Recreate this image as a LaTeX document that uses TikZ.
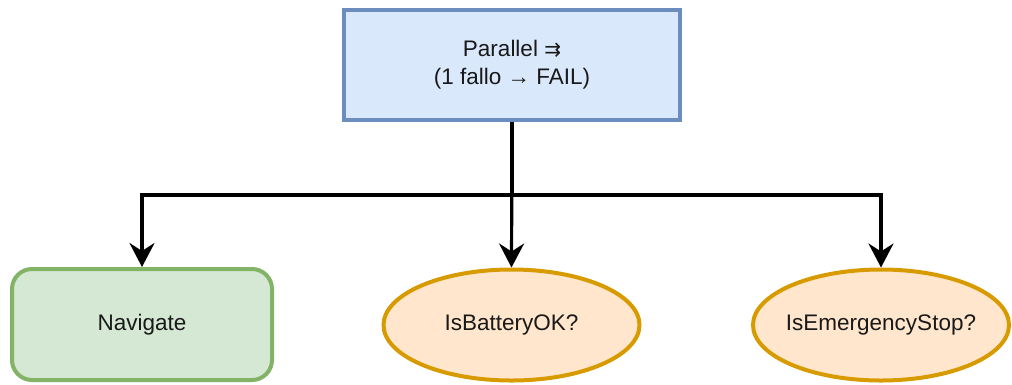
\documentclass[tikz,border=0pt]{standalone}
\usepackage{fontspec}
\setmainfont{Liberation Sans}
\newfontfamily\symfont{DejaVu Sans}
\usetikzlibrary{arrows.meta,shapes.geometric}
\definecolor{parfill}{HTML}{DAE8FC}
\definecolor{pardraw}{HTML}{6C8EBF}
\definecolor{actfill}{HTML}{D5E8D4}
\definecolor{actdraw}{HTML}{82B366}
\definecolor{condfill}{HTML}{FFE6CC}
\definecolor{conddraw}{HTML}{D79B00}
\tikzset{
  base/.style={line width=4pt, font=\fontsize{22.5}{28}\selectfont, text=black!90, align=center, inner sep=0pt},
  parbox/.style={base, rectangle, fill=parfill, draw=pardraw, minimum width=336pt, minimum height=110pt},
  actbox/.style={base, rectangle, rounded corners=20pt, fill=actfill, draw=actdraw, minimum width=260pt, minimum height=111pt},
  condbox/.style={base, ellipse, inner xsep=-40pt, fill=condfill, draw=conddraw, minimum width=256pt, minimum height=111pt},
  link/.style={line width=3.2pt, black, -{Stealth[length=24pt, width=25pt, inset=8pt]}}
}
\begin{document}
\begin{tikzpicture}[x=1pt, y=-1pt]
  \useasboundingbox (0,0) rectangle (1012,384);
  \node[parbox] (par) at (512,65) {Parallel {\symfont\fontsize{20}{28}\selectfont ⇉}\\(1 fallo → FAIL)};
  \node[actbox] (nav) at (142,324.5) {Navigate};
  \node[condbox] (bat) at (511.5,325) {IsBatteryOK?};
  \node[condbox] (stop) at (881,325) {IsEmergencyStop?};
  \coordinate (split) at (512,195);
  \draw[link] (par.south) -- (split) -| (nav.north);
  \draw[link] (par.south) -- (bat.north);
  \draw[link] (par.south) -- (split) -| (stop.north);
\end{tikzpicture}
\end{document}
